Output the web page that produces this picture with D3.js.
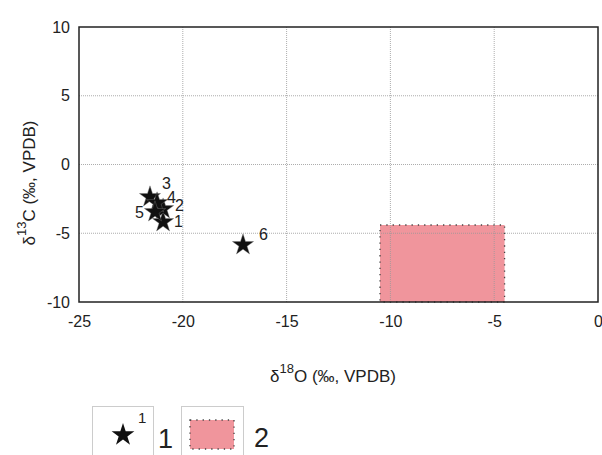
<!DOCTYPE html>
<html>
<head>
<meta charset="utf-8">
<script src="https://cdn.jsdelivr.net/npm/d3@7"></script>
<style>
  body { margin: 0; background: #fff; }
  text { font-family: "Liberation Sans", Arial, sans-serif; fill: #222; }
</style>
</head>
<body>
<svg id="chart" width="602" height="455"></svg>
<script>
// datos de las muestras
const sampleIds = ['1', '2', '3', '4', '5', '6'];
const d18O = [-20.95, -20.95, -21.58, -21.24, -21.34, -17.1];
const d13C = [-4.18, -3.24, -2.36, -2.8, -3.45, -5.85];

// campo 2 (rectángulo)
const fieldX = [-10.5, -4.5];
const fieldY = [-10, -4.4];

const xTicks = [-25, -20, -15, -10, -5, 0];
const yTicks = [-10, -5, 0, 5, 10];

const svg = d3.select('#chart');
const margin = { left: 79, top: 27, right: 4, bottom: 153 };
const W = 602 - margin.left - margin.right;
const H = 455 - margin.top - margin.bottom;

const x = d3.scaleLinear().domain([-25, 0]).range([0, W]);
const y = d3.scaleLinear().domain([-10, 10]).range([H, 0]);

const g = svg.append('g').attr('transform', `translate(${margin.left},${margin.top})`);

// campo rosa
g.append('rect')
  .attr('x', x(fieldX[0])).attr('y', y(fieldY[1]))
  .attr('width', x(fieldX[1]) - x(fieldX[0]))
  .attr('height', y(fieldY[0]) - y(fieldY[1]))
  .attr('fill', '#f0959c')
  .attr('stroke', '#444').attr('stroke-width', 1.3).attr('stroke-dasharray', '1.3,5');

// rejilla
g.append('g').selectAll('line').data(xTicks.slice(1, -1)).enter().append('line')
  .attr('x1', d => x(d)).attr('x2', d => x(d)).attr('y1', 0).attr('y2', H)
  .attr('stroke', '#999').attr('stroke-opacity', 0.8).attr('stroke-dasharray', '1,1');
g.append('g').selectAll('line').data(yTicks.slice(1, -1)).enter().append('line')
  .attr('y1', d => y(d)).attr('y2', d => y(d)).attr('x1', 0).attr('x2', W)
  .attr('stroke', '#999').attr('stroke-opacity', 0.8).attr('stroke-dasharray', '1,1');

// marco
g.append('rect').attr('width', W).attr('height', H)
  .attr('fill', 'none').attr('stroke', '#222').attr('stroke-width', 1.5);

// ejes (guion normal en vez del signo menos)
const fmt = d => String(d);
const xAxis = g.append('g').attr('transform', `translate(0,${H})`)
  .call(d3.axisBottom(x).tickValues(xTicks).tickFormat(fmt).tickSize(0).tickPadding(12));
const yAxis = g.append('g')
  .call(d3.axisLeft(y).tickValues(yTicks).tickFormat(fmt).tickSize(0).tickPadding(9));
[xAxis, yAxis].forEach(a => {
  a.select('.domain').remove();
  a.selectAll('text').style('font-size', '16px').attr('fill', '#222')
    .style('font-family', '"Liberation Sans", Arial, sans-serif');
});
xAxis.selectAll('text').attr('dy', '0.8em');

// estrellas
const star = d3.symbol().type(d3.symbolStar);
const pts = sampleIds.map((id, i) => ({ id, x: d18O[i], y: d13C[i] }));
g.selectAll('.star').data(pts).enter().append('path')
  .attr('class', 'star')
  .attr('transform', d => `translate(${x(d.x)},${y(d.y)})`)
  .attr('d', star.size(140)())
  .attr('fill', '#111').attr('stroke', '#777').attr('stroke-width', 0.4);

// etiquetas de muestras
const labelOffsets = { '1': [11, 5], '2': [12, 2], '3': [12, -8], '4': [10, 0], '5': [-20, 6], '6': [16, -5] };
g.selectAll('.lbl').data(pts).enter().append('text')
  .attr('x', d => x(d.x) + labelOffsets[d.id][0])
  .attr('y', d => y(d.y) + labelOffsets[d.id][1])
  .style('font-size', '16px')
  .text(d => d.id);

// títulos de ejes
const xt = svg.append('text')
  .attr('x', 333).attr('y', 382)
  .attr('text-anchor', 'middle').style('font-size', '17px');
xt.append('tspan').text('δ');
xt.append('tspan').attr('dy', -9).style('font-size', '13px').text('18');
xt.append('tspan').attr('dy', 9).text('O (‰, VPDB)');

const yt = svg.append('text')
  .attr('transform', 'translate(35,183) rotate(-90)')
  .attr('text-anchor', 'middle').style('font-size', '17px');
yt.append('tspan').text('δ');
yt.append('tspan').attr('dy', -9).style('font-size', '13px').text('13');
yt.append('tspan').attr('dy', 9).text('C (‰,  VPDB)');

// leyenda
const lg = svg.append('g');
lg.append('rect').attr('x', 92.5).attr('y', 406.5).attr('width', 61).attr('height', 60)
  .attr('fill', '#fff').attr('stroke', '#ccc');
lg.append('path').attr('transform', 'translate(123,435)')
  .attr('d', star.size(160)()).attr('fill', '#111');
lg.append('text').attr('x', 138).attr('y', 423).style('font-size', '15px').text('1');
lg.append('text').attr('x', 158).attr('y', 448).style('font-size', '27px').text('1');

lg.append('rect').attr('x', 181.5).attr('y', 406.5).attr('width', 62).attr('height', 60)
  .attr('fill', '#fff').attr('stroke', '#ccc');
lg.append('rect').attr('x', 190).attr('y', 420).attr('width', 44).attr('height', 29)
  .attr('fill', '#f0959c')
  .attr('stroke', '#444').attr('stroke-width', 1.3).attr('stroke-dasharray', '1.3,5');
lg.append('text').attr('x', 254).attr('y', 447).style('font-size', '27px').text('2');
</script>
</body>
</html>
